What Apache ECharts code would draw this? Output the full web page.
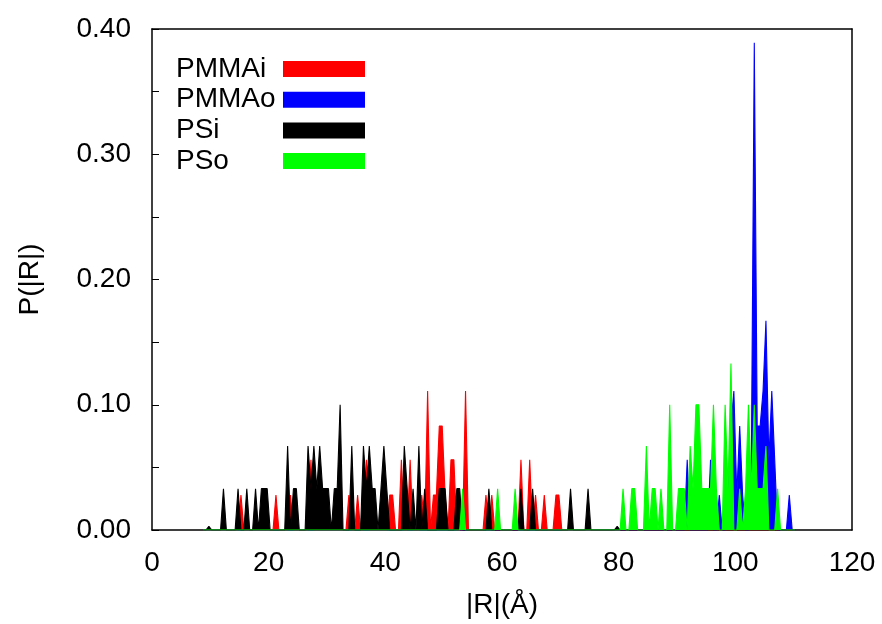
<!DOCTYPE html>
<html>
<head>
<meta charset="utf-8">
<script src="https://cdn.jsdelivr.net/npm/echarts/dist/echarts.min.js"></script>
<style>
  html, body { margin: 0; padding: 0; background: #ffffff; }
  #chart { width: 882px; height: 624px; }
</style>
</head>
<body>
<div id="chart"></div>
<script>
// Histogram of end-to-end distance |R| for each chain population.
// Each series lists its non-empty bins: bin centre (Å) and probability.
const seriesNames = ['PMMAi', 'PMMAo', 'PSi', 'PSo'];
const seriesColors = ['#ff0000', '#0000ff', '#000000', '#00ff00'];

const pmmaiR = [15.25, 21.25, 23.75, 27.25, 33.75, 35.25, 36.75, 40.75, 41.25, 42.75, 44.25, 46.25, 47.25,
  48.25, 48.75, 49.25, 49.75, 50.25, 51.25, 51.75, 53.75, 57.25, 58.25, 63.25, 64.75, 65.75, 67.25, 69.25, 69.75];
const pmmaiP = [0.028, 0.028, 0.028, 0.056, 0.028, 0.028, 0.056, 0.028, 0.028, 0.056, 0.056, 0.028, 0.111,
  0.028, 0.028, 0.083, 0.083, 0.028, 0.056, 0.056, 0.111, 0.028, 0.028, 0.056, 0.056, 0.028, 0.028, 0.028, 0.028];

const pmmaoR = [91.75, 95.75, 97.25, 98.75, 99.25, 99.75, 100.25, 100.75, 101.25, 102.75, 103.25, 103.75, 104.25,
  104.75, 105.25, 105.75, 106.25, 106.75, 109.25];
const pmmaoP = [0.056, 0.056, 0.028, 0.028, 0.083, 0.111, 0.028, 0.083, 0.028, 0.056, 0.389, 0.083, 0.083,
  0.111, 0.167, 0.056, 0.111, 0.056, 0.028];

const psiR = [9.75, 12.25, 14.75, 16.25, 17.75, 18.75, 19.25, 19.75, 23.25, 24.25, 24.75, 26.75, 27.25, 27.75,
  28.25, 28.75, 29.25, 29.75, 30.25, 31.25, 31.75, 32.25, 34.25, 36.25, 36.75, 37.25, 37.75, 38.25, 39.25, 39.75,
  40.25, 43.25, 43.75, 44.75, 45.75, 46.75, 49.25, 49.75, 50.25, 52.25, 52.75, 57.75, 63.25, 65.25, 71.75, 74.75, 79.75];
const psiP = [0.003, 0.033, 0.033, 0.033, 0.033, 0.033, 0.033, 0.033, 0.067, 0.033, 0.033, 0.067, 0.033, 0.067,
  0.033, 0.067, 0.033, 0.033, 0.033, 0.033, 0.033, 0.100, 0.067, 0.067, 0.033, 0.067, 0.033, 0.033, 0.033, 0.067,
  0.033, 0.067, 0.033, 0.033, 0.067, 0.033, 0.033, 0.033, 0.033, 0.033, 0.033, 0.033, 0.033, 0.033, 0.033, 0.033, 0.003];

const psoR = [53.25, 59.25, 62.25, 80.75, 82.25, 82.75, 84.75, 85.75, 86.25, 87.25, 88.75, 90.25, 90.75, 91.25,
  92.25, 92.75, 93.25, 93.75, 94.25, 94.75, 95.25, 95.75, 96.25, 96.75, 98.25, 98.75, 99.25, 100.75, 101.75,
  102.25, 102.75, 103.25, 103.75, 104.25, 104.75, 105.25, 107.25];
const psoP = [0.033, 0.033, 0.033, 0.033, 0.033, 0.033, 0.067, 0.033, 0.033, 0.033, 0.100, 0.033, 0.033, 0.033,
  0.067, 0.033, 0.100, 0.100, 0.033, 0.033, 0.033, 0.033, 0.100, 0.033, 0.100, 0.033, 0.133, 0.033, 0.033,
  0.100, 0.033, 0.100, 0.033, 0.033, 0.033, 0.067, 0.033];

const xTicks = [0, 20, 40, 60, 80, 100, 120];
const yTicks = [0.00, 0.10, 0.20, 0.30, 0.40];

// Histogram layout: 0.5 Å bins, empty bins are zero.
const binWidth = 0.5;
const binFirst = 8.75;
const binLast = 110.25;

function histogramTable(rs, ps) {
  const table = [];
  const n = Math.round((binLast - binFirst) / binWidth);
  for (let i = 0; i <= n; i++) {
    const r = binFirst + i * binWidth;
    const k = rs.findIndex(v => Math.abs(v - r) < 1e-6);
    table.push([r, k >= 0 ? ps[k] : 0]);
  }
  return table;
}

const tables = [
  histogramTable(pmmaiR, pmmaiP),
  histogramTable(pmmaoR, pmmaoP),
  histogramTable(psiR, psiP),
  histogramTable(psoR, psoP)
];

const FONT = 'Liberation Sans';
const FS = 28;

const chart = echarts.init(document.getElementById('chart'), null, { renderer: 'canvas' });

const frameLine = { show: true, onZero: false, lineStyle: { color: '#000', width: 1.5 } };

chart.setOption({
  animation: false,
  backgroundColor: '#ffffff',
  textStyle: { fontFamily: FONT },
  grid: { left: 152, right: 30, top: 29, bottom: 92, containLabel: false },
  legend: {
    show: true,
    orient: 'vertical',
    left: 171,
    top: 50,
    align: 'right',
    itemWidth: 82,
    itemHeight: 16,
    itemGap: 2.7,
    icon: 'rect',
    data: seriesNames,
    formatter: name => '{t|' + name + '}',
    textStyle: {
      fontFamily: FONT, fontSize: FS, color: '#000',
      rich: { t: { fontFamily: FONT, fontSize: FS, color: '#000', width: 102, align: 'left' } }
    }
  },
  xAxis: [
    {
      type: 'value', position: 'bottom', min: xTicks[0], max: xTicks[xTicks.length - 1], interval: 20,
      name: '|R|(Å)', nameLocation: 'middle', nameGap: 61,
      nameTextStyle: { fontFamily: FONT, fontSize: FS, color: '#000' },
      axisLine: frameLine,
      axisTick: { show: false },
      splitLine: { show: false },
      axisLabel: { show: true, margin: 19, fontFamily: FONT, fontSize: FS, color: '#000' }
    },
    {
      type: 'value', position: 'top', min: xTicks[0], max: xTicks[xTicks.length - 1], interval: 20,
      axisLine: frameLine, axisTick: { show: false }, axisLabel: { show: false }, splitLine: { show: false }
    }
  ],
  yAxis: [
    {
      type: 'value', position: 'left', min: yTicks[0], max: yTicks[yTicks.length - 1], interval: 0.1,
      name: 'P(|R|)', nameLocation: 'middle', nameGap: 108, nameRotate: 90,
      nameTextStyle: { fontFamily: FONT, fontSize: FS, color: '#000' },
      axisLine: frameLine,
      axisTick: { show: true, inside: true, length: 7, lineStyle: { color: '#000', width: 1 } },
      minorTick: { show: true, splitNumber: 2, length: 7, lineStyle: { color: '#000', width: 1 } },
      splitLine: { show: false },
      minorSplitLine: { show: false },
      axisLabel: { show: true, margin: 21, fontFamily: FONT, fontSize: FS, color: '#000',
        formatter: v => v.toFixed(2) }
    },
    {
      type: 'value', position: 'right', min: yTicks[0], max: yTicks[yTicks.length - 1], interval: 0.1,
      axisLine: frameLine, axisTick: { show: false }, axisLabel: { show: false }, splitLine: { show: false }
    }
  ],
  series: seriesNames.map((name, i) => ({
    name: name,
    type: 'line',
    xAxisIndex: 0,
    yAxisIndex: 0,
    data: tables[i],
    symbol: 'none',
    smooth: false,
    color: seriesColors[i],
    lineStyle: { width: 1.1, color: seriesColors[i] },
    areaStyle: { color: seriesColors[i], opacity: 1, origin: 'start' },
    itemStyle: { color: seriesColors[i] },
    z: 2 + i
  }))
});
</script>
</body>
</html>
